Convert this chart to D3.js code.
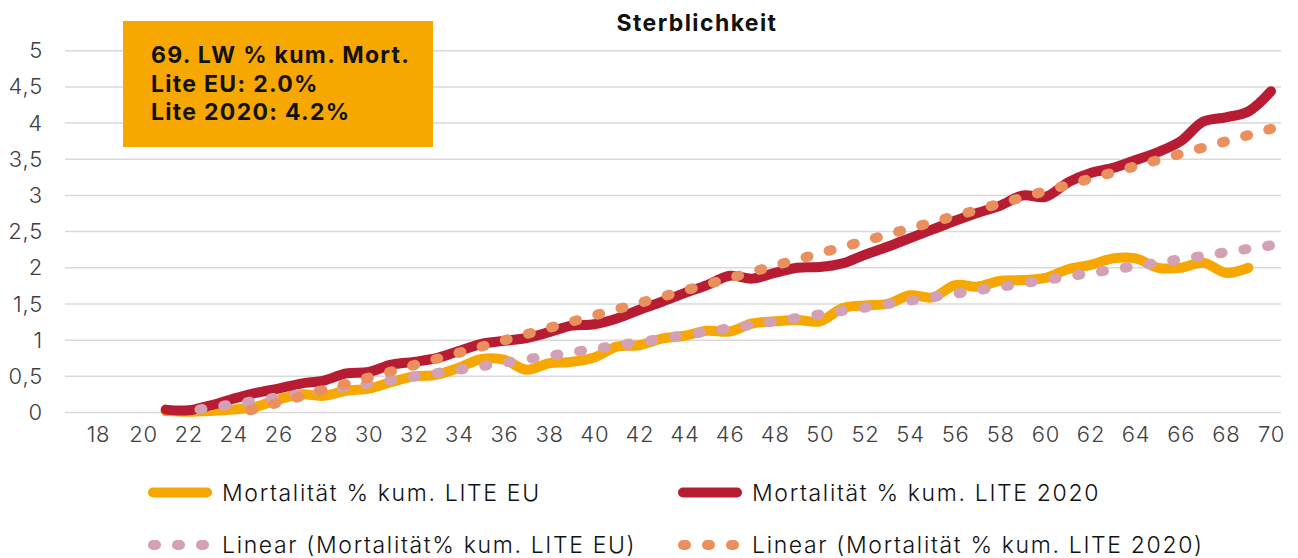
<!DOCTYPE html>
<html>
<head>
<meta charset="utf-8">
<script src="https://cdn.jsdelivr.net/npm/d3@7"></script>
<style>
  body { margin: 0; background: #fff; }
  svg { display: block; font-family: Inter, "Noto Sans", sans-serif; }
</style>
</head>
<body>
<svg id="canvas" width="1298" height="558"></svg>
<script>
// ages on the category axis
let tickAges = d3.range(18, 71, 2)
let yTicks = [0, 0.5, 1, 1.5, 2, 2.5, 3, 3.5, 4, 4.5, 5]

// Mortalität % kum. LITE EU (ages 21-69)
let euAges = d3.range(21, 70)
let euValues = [0.02, 0.01, 0.02, 0.04, 0.08, 0.18, 0.25, 0.23, 0.30, 0.33,
  0.42, 0.50, 0.52, 0.62, 0.74, 0.73, 0.59, 0.68, 0.70, 0.76,
  0.91, 0.93, 1.02, 1.06, 1.13, 1.12, 1.23, 1.26, 1.28, 1.26,
  1.44, 1.48, 1.50, 1.62, 1.59, 1.76, 1.74, 1.82, 1.83, 1.86,
  1.98, 2.04, 2.13, 2.13, 2.00, 2.00, 2.07, 1.93, 2.00]

// Mortalität % kum. LITE 2020 (ages 21-70)
let liteAges = d3.range(21, 71)
let liteValues = [0.04, 0.03, 0.10, 0.19, 0.27, 0.33, 0.40, 0.44, 0.54, 0.56,
  0.66, 0.70, 0.75, 0.85, 0.95, 0.99, 1.03, 1.11, 1.20, 1.22,
  1.30, 1.42, 1.53, 1.65, 1.76, 1.89, 1.85, 1.93, 2.00, 2.01,
  2.06, 2.18, 2.29, 2.41, 2.53, 2.65, 2.76, 2.86, 3.00, 2.98,
  3.18, 3.31, 3.38, 3.49, 3.60, 3.75, 4.02, 4.08, 4.16, 4.44]

// linear trend lines (first visible dot to age 70)
let trendEuAges = [22.5, 70]
let trendEuValues = [0.043, 2.31]
let trendLiteAges = [24.75, 70]
let trendLiteValues = [0.03, 3.92]

let boxLines = ["69. LW % kum. Mort.", "Lite EU: 2.0%", "Lite 2020: 4.2%"]

let colors = {
  eu: "#f7a800",
  lite: "#b81c32",
  trendEu: "#d3a1b5",
  trendLite: "#ea8f5e"
}

let canvas = d3.select("#canvas")

let xScale = d3.scaleLinear().domain([18, 70]).range([98, 1271])
let yScale = d3.scaleLinear().domain([0, 5]).range([412.5, 50.7])
let gridLeft = 65
let gridRight = 1281

// grid
canvas.append("g")
  .selectAll("line")
  .data(yTicks)
  .enter()
  .append("line")
  .attr("x1", gridLeft)
  .attr("x2", gridRight)
  .attr("y1", d => yScale(d))
  .attr("y2", d => yScale(d))
  .attr("stroke", "#d9d9d9")
  .attr("stroke-width", 1.5)

// y axis
let yAxis = d3.axisLeft(yScale)
  .tickValues(yTicks)
  .tickSize(0)
  .tickPadding(0)
  .tickFormat(d => String(d).replace(".", ","))

let yG = canvas.append("g")
  .attr("transform", "translate(43,0)")
  .call(yAxis)
yG.select(".domain").remove()
yG.selectAll("text")
  .attr("font-family", "Inter, sans-serif")
  .attr("font-size", 22)
  .attr("font-weight", 300)
  .attr("letter-spacing", 0.8)
  .attr("fill", "#404040")

// x axis
let xAxis = d3.axisBottom(xScale)
  .tickValues(tickAges)
  .tickSize(0)
  .tickPadding(0)
  .tickFormat(d3.format("d"))

let xG = canvas.append("g")
  .attr("transform", "translate(0,424)")
  .call(xAxis)
xG.select(".domain").remove()
xG.selectAll("text")
  .attr("dy", "0.8em")
  .attr("font-family", "Inter, sans-serif")
  .attr("font-size", 22)
  .attr("font-weight", 300)
  .attr("letter-spacing", 0.8)
  .attr("fill", "#404040")

// title
canvas.append("text")
  .attr("x", 697)
  .attr("y", 31)
  .attr("text-anchor", "middle")
  .attr("font-size", 23)
  .attr("font-weight", 700)
  .attr("letter-spacing", 1.4)
  .attr("fill", "#111")
  .text("Sterblichkeit")

let smoothLine = d3.line()
  .x(d => xScale(d[0]))
  .y(d => yScale(d[1]))
  .curve(d3.curveCatmullRom.alpha(0.5))

let straightLine = d3.line()
  .x(d => xScale(d[0]))
  .y(d => yScale(d[1]))

let series = [
  { points: d3.zip(euAges, euValues), color: colors.eu, line: smoothLine, dash: null },
  { points: d3.zip(liteAges, liteValues), color: colors.lite, line: smoothLine, dash: null },
  { points: d3.zip(trendEuAges, trendEuValues), color: colors.trendEu, line: straightLine, dash: "3 21" },
  { points: d3.zip(trendLiteAges, trendLiteValues), color: colors.trendLite, line: straightLine, dash: "3 21" }
]

canvas.append("g")
  .selectAll("path")
  .data(series)
  .enter()
  .append("path")
  .attr("d", s => s.line(s.points))
  .attr("fill", "none")
  .attr("stroke", s => s.color)
  .attr("stroke-width", 10)
  .attr("stroke-linecap", "round")
  .attr("stroke-linejoin", "round")
  .attr("stroke-dasharray", s => s.dash)

// info box
canvas.append("rect")
  .attr("x", 123)
  .attr("y", 21)
  .attr("width", 310)
  .attr("height", 126)
  .attr("fill", "#f7a800")

canvas.append("g")
  .selectAll("text")
  .data(boxLines)
  .enter()
  .append("text")
  .attr("x", 151)
  .attr("y", (d, i) => 63 + i * 28.5)
  .attr("font-size", 23)
  .attr("font-weight", 700)
  .attr("letter-spacing", 1.3)
  .attr("fill", "#111")
  .text(d => d)

// legend
let legendItems = [
  { label: "Mortalität % kum. LITE EU", color: colors.eu, dotted: false, x: 148, y: 492.5 },
  { label: "Mortalität % kum. LITE 2020", color: colors.lite, dotted: false, x: 678, y: 492.5 },
  { label: "Linear (Mortalität% kum. LITE EU)", color: colors.trendEu, dotted: true, x: 148, y: 545 },
  { label: "Linear (Mortalität % kum. LITE 2020)", color: colors.trendLite, dotted: true, x: 678, y: 545 }
]

let legend = canvas.append("g")
  .selectAll("g")
  .data(legendItems)
  .enter()
  .append("g")
  .attr("transform", d => `translate(${d.x},${d.y})`)

legend.append("line")
  .attr("x1", 5)
  .attr("x2", d => d.dotted ? 60 : 59)
  .attr("y1", 0)
  .attr("y2", 0)
  .attr("stroke", d => d.color)
  .attr("stroke-width", 10)
  .attr("stroke-linecap", "round")
  .attr("stroke-dasharray", d => d.dotted ? "3 21" : null)

legend.append("text")
  .attr("x", 74)
  .attr("y", 0)
  .attr("dy", "0.36em")
  .attr("font-size", 23)
  .attr("font-weight", 300)
  .attr("letter-spacing", 1.65)
  .attr("fill", "#111")
  .text(d => d.label)
</script>
</body>
</html>
